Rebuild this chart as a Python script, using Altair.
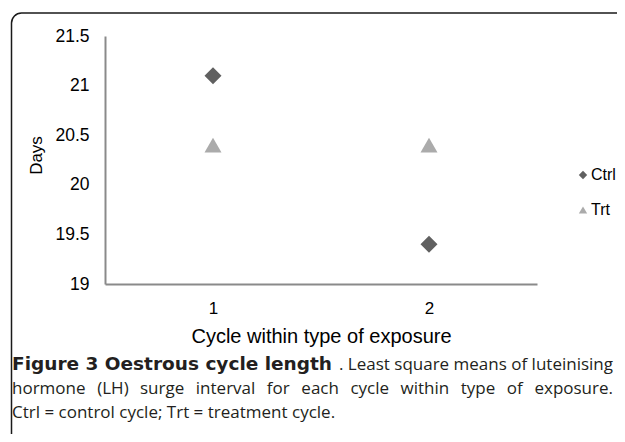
import altair as alt
import pandas as pd

cycles = [1, 2, 1, 2]
days = [21.1, 19.4, 20.4, 20.4]
groups = ["Ctrl", "Ctrl", "Trt", "Trt"]
y_ticks = [19, 19.5, 20, 20.5, 21, 21.5]
x_ticks = [1, 2]
caption_bold = "Figure 3 Oestrous cycle length"
caption_rest1 = ". Least square means of luteinising"
caption_line2 = "hormone (LH) surge interval for each cycle within type of exposure."
caption_line3 = "Ctrl = control cycle; Trt = treatment cycle."

df = pd.DataFrame({"cycle": cycles, "days": days, "group": groups})
one = pd.DataFrame({"k": [0]})

AX = "Liberation Sans"
CAP = "Open Sans"
CAP_SIZE = 17

# approximate Open Sans advance widths (em) used only to spread justified words
OS_W = {" ": .26, "a": .556, "b": .613, "c": .476, "d": .613, "e": .561, "f": .339,
        "g": .548, "h": .614, "i": .253, "l": .253, "m": .93, "n": .614, "o": .604,
        "p": .613, "q": .613, "r": .408, "s": .477, "t": .353, "u": .614, "v": .501,
        "w": .778, "x": .524, "y": .502, "(": .281, ")": .281, ".": .266, ";": .266,
        "=": .572, "C": .631, "L": .533, "H": .738, "T": .551}

def text_w(s):
    return sum(OS_W.get(ch, .56) for ch in s) * CAP_SIZE

legend = alt.Legend(title=None, orient="none", legendX=470, legendY=131,
                    symbolSize=70, labelFont=AX, labelFontSize=16,
                    labelColor="#000", rowPadding=19, labelOffset=0,
                    padding=0, symbolStrokeWidth=0)

points = alt.Chart(df).mark_point(filled=True, size=289, opacity=1).encode(
    x=alt.X("cycle:Q", scale=alt.Scale(domain=[0.5, 2.5], nice=False, zero=False),
            axis=alt.Axis(values=x_ticks, ticks=False, grid=False, domainColor="#8a8a8a",
                          domainWidth=2, labelFont=AX, labelFontSize=17, labelColor="#000",
                          labelPadding=16, title="Cycle within type of exposure",
                          titleFont=AX, titleFontSize=20, titleFontWeight="normal",
                          titleColor="#000", titleY=58, titleBaseline="alphabetic")),
    y=alt.Y("days:Q", scale=alt.Scale(domain=[19, 21.5], nice=False, zero=False),
            axis=alt.Axis(values=y_ticks, format="~g", ticks=False, grid=False,
                          domainColor="#8a8a8a", domainWidth=2, labelFont=AX,
                          labelFontSize=17.5, labelColor="#000", labelPadding=16,
                          title="Days", titleFont=AX, titleFontSize=17,
                          titleFontWeight="normal", titleColor="#000", titleX=-64,
                          titleY=119, titleAngle=270, titleAlign="center",
                          titleBaseline="alphabetic")),
    color=alt.Color("group:N", scale=alt.Scale(domain=["Ctrl", "Trt"], range=["#606060", "#ababab"]),
                    legend=legend),
    shape=alt.Shape("group:N", scale=alt.Scale(domain=["Ctrl", "Trt"], range=["diamond", "triangle-up"]),
                    legend=legend),
)

border = alt.Chart(one).mark_rect(fillOpacity=0, stroke="#1a1a1a", strokeWidth=1.5,
                                  cornerRadius=10).encode(
    x=alt.value(-93.5), x2=alt.value(560), y=alt.value(-23), y2=alt.value(430))

def cap(text, x, y, align="left", weight="normal", font=CAP, size=CAP_SIZE):
    return alt.Chart(pd.DataFrame({"t": [text]})).mark_text(
        font=font, fontSize=size, fontWeight=weight, color="#231f20", align=align,
        baseline="alphabetic").encode(text="t:N", x=alt.value(x), y=alt.value(y))

LEFT, RIGHT = -93, 508

def justified(line, y):
    words = line.split(" ")
    widths = [text_w(w) for w in words]
    gap = (RIGHT - LEFT - sum(widths)) / (len(words) - 1)
    layers, x = [], LEFT
    for w, wd in zip(words, widths):
        layers.append(cap(w, x, y))
        x += wd + gap
    layers[-1] = cap(words[-1], RIGHT, y, align="right")
    return layers

captions = [
    cap(caption_bold, LEFT, 334, weight="bold", font="DejaVu Sans", size=18.5),
    cap(caption_rest1, RIGHT, 334, align="right"),
    *justified(caption_line2, 358),
    cap(caption_line3, LEFT, 382),
]

chart = alt.layer(border, points, *captions).properties(
    width=432, height=248,
    autosize=alt.AutoSizeParams(type="none"),
    padding={"left": 97, "top": 28, "right": 80, "bottom": 150},
).configure_view(stroke=None).resolve_scale(color="shared", shape="shared")

chart.save("out.html", embed_options={"renderer": "svg", "actions": False})
